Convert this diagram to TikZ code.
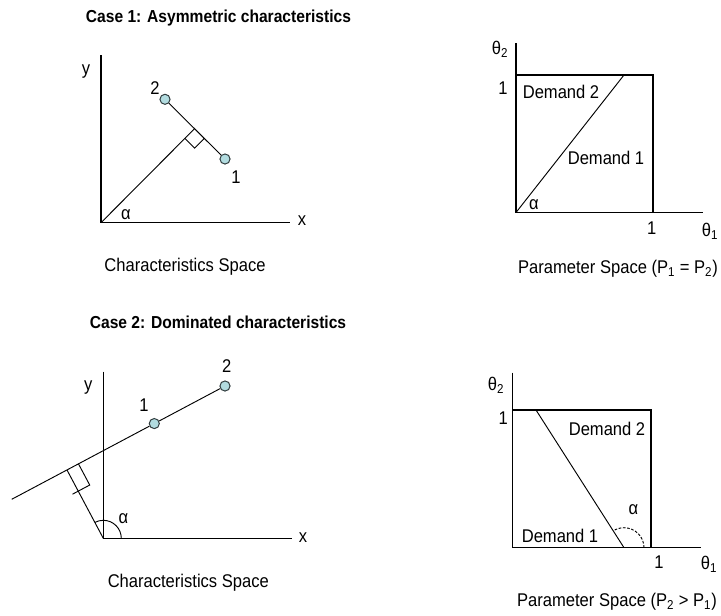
\documentclass[tikz,border=0pt]{standalone}
\usepackage{fontspec}
\setmainfont{Liberation Sans}[FakeStretch=0.9]
\usetikzlibrary{calc}
\definecolor{ptfill}{RGB}{178,220,224}
\definecolor{ptline}{RGB}{50,62,64}
\begin{document}
\begin{tikzpicture}[x=0.75pt,y=-0.75pt,
  axis/.style={line width=1.15pt},
  thinline/.style={line width=0.7pt},
  lbl/.style={font=\fontsize{13.8}{15}\selectfont, inner sep=0pt},
  ttl/.style={font=\bfseries\fontsize{13}{15}\selectfont, inner sep=0pt},
  dot/.style={circle, draw=ptline, fill=ptfill, line width=0.75pt, minimum size=7.6pt, inner sep=0pt}]
\useasboundingbox (0,0) rectangle (721,615);

% ---------- Titles ----------
\node[ttl] (t1) at (218.5,18) {Case 1: Asymmetric characteristics};
\node[ttl] (t2) at (218,322) {Case 2: Dominated characteristics};

% ---------- Case 1: characteristics space ----------
\coordinate (o1) at (101,222.7);
\coordinate (ya1) at (101,55);
\coordinate (xa1) at (290,222.7);
\draw[axis] (ya1) -- (o1) -- (xa1);
\node[dot] (p12) at (165,99.3) {};
\node[dot] (p11) at (225,159) {};
\draw[thinline] (p12) -- (p11);
\coordinate (f1) at ($(p12)!(o1)!(p11)$);
\draw[thinline] (o1) -- (f1);
\coordinate (r1a) at ($(f1)!10.3pt!(o1)$);
\coordinate (r1b) at ($(f1)!10.3pt!(p11)$);
\coordinate (r1c) at ($(r1a)+(r1b)-(f1)$);
\draw[thinline] (r1a) -- (r1c) -- (r1b);
\node[lbl] (l12) at (155,88.5) {2};
\node[lbl] (l11) at (236,177) {1};
\node[lbl] (ly1) at (86,72) {y};
\node[lbl] (lx1) at (302,221) {x};
\node[lbl] (la1) at (126,215) {α};
\node[lbl] (c1) at (185,267) {Characteristics Space};

% ---------- Case 1: parameter space ----------
\coordinate (o2) at (516,212.5);
\coordinate (ya2) at (516,43);
\coordinate (xa2) at (703,212.5);
\coordinate (b2) at (653,75);
\coordinate (d2) at (624,75);
\draw[axis] (ya2) -- (o2) -- (xa2);
\draw[axis] (o2) rectangle (b2);
\draw[thinline] (o2) -- (d2);
\node[lbl] (th22) at (500,49) {θ\textsubscript{2}};
\node[lbl] (one2y) at (503,88) {1};
\node[lbl] (one2x) at (651.7,228.5) {1};
\node[lbl] (th21) at (710,231) {θ\textsubscript{1}};
\node[lbl] (dm22) at (561,92) {Demand 2};
\node[lbl] (dm21) at (606,157.5) {Demand 1};
\node[lbl] (la2) at (534,205) {α};
\node[lbl] (c2) at (618,268.5) {Parameter Space (P\textsubscript{1} = P\textsubscript{2})};

% ---------- Case 2: characteristics space ----------
\coordinate (o3) at (103.3,538.3);
\coordinate (ya3) at (103.3,371.7);
\coordinate (xa3) at (291.7,538.3);
\draw[axis] (ya3) -- (o3) -- (xa3);
\coordinate (L3) at (11.7,499.3);
\node[dot] (p32) at (225,386) {};
\node[dot] (p31) at ($(L3)!0.6685!(p32)$) {};
\draw[thinline] (L3) -- (p31) -- (p32);
\coordinate (f3) at ($(L3)!(o3)!(p32)$);
\draw[thinline] (o3) -- (f3);
\coordinate (r3a) at ($(f3)!9.75pt!(p32)$);
\coordinate (r3c) at ($(f3)!18pt!(o3)$);
\coordinate (r3b) at ($(r3a)+(r3c)-(f3)$);
\coordinate (r3e) at ($(r3b)!1.5!(r3c)$);
\draw[thinline] (r3a) -- (r3b) -- (r3e);
\draw[thinline] ([xshift=13.5pt]o3) arc[start angle=0, end angle=118, radius=13.5pt];
\node[lbl] (l32) at (226.7,366) {2};
\node[lbl] (l31) at (144,405) {1};
\node[lbl] (ly3) at (88.3,388) {y};
\node[lbl] (lx3) at (303,538) {x};
\node[lbl] (la3) at (123.3,518.3) {α};
\node[lbl] (c3) at (188.3,582.7) {Characteristics Space};

% ---------- Case 2: parameter space ----------
\coordinate (o4) at (512.3,547.7);
\coordinate (ya4) at (512.3,372.7);
\coordinate (xa4) at (700.7,547.7);
\coordinate (b4) at (651,410);
\coordinate (d4t) at (536,410);
\coordinate (d4b) at (624,547.7);
\draw[axis] (ya4) -- (o4) -- (xa4);
\draw[axis] (o4) rectangle (b4);
\draw[thinline] (d4t) -- (d4b);
\draw[thinline, dash pattern=on 2pt off 1.2pt] ([xshift=15pt]d4b) arc[start angle=0, end angle=122.6, radius=15pt];
\node[lbl] (th42) at (496,385) {θ\textsubscript{2}};
\node[lbl] (one4y) at (503.3,418.3) {1};
\node[lbl] (one4x) at (659,561.7) {1};
\node[lbl] (th41) at (709,564) {θ\textsubscript{1}};
\node[lbl] (dm42) at (607,429) {Demand 2};
\node[lbl] (dm41) at (560,536) {Demand 1};
\node[lbl] (la4) at (633.3,510) {α};
\node[lbl] (c4) at (617,602) {Parameter Space (P\textsubscript{2} > P\textsubscript{1})};
\end{tikzpicture}
\end{document}
